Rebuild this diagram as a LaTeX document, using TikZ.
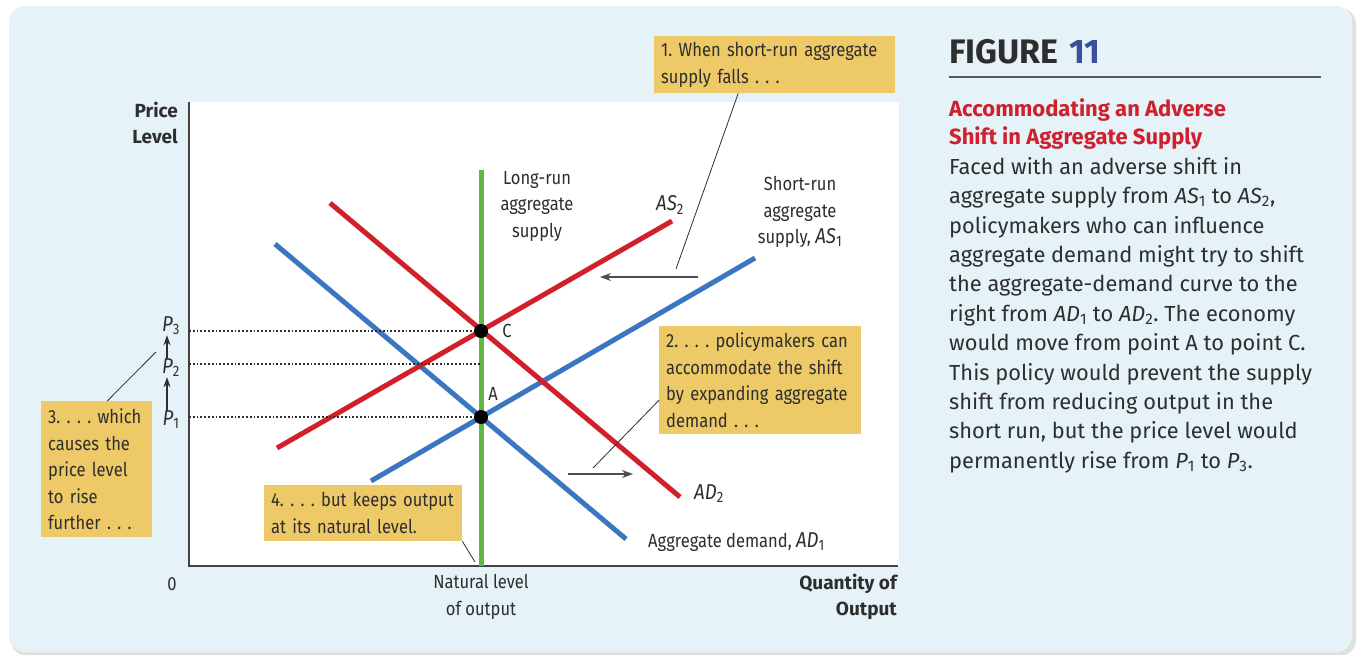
\documentclass[tikz,border=0pt]{standalone}
\usepackage{fontspec}
\newfontfamily\condfont[FakeStretch=0.87]{Fira Sans}
\newfontfamily\bodyfont{Fira Sans}
\usetikzlibrary{arrows.meta,positioning,calc}

\definecolor{panelblue}{HTML}{E5F3F8}
\definecolor{notefill}{HTML}{EDC967}
\definecolor{curvered}{HTML}{D2202A}
\definecolor{curveblue}{HTML}{3B77C0}
\definecolor{lrasgreen}{HTML}{62B847}
\definecolor{inkgray}{HTML}{2E2E2E}
\definecolor{titleblue}{HTML}{3B4F9F}
\definecolor{titlered}{HTML}{D0202E}

\newcommand{\vsub}[2]{\textit{#1}\textsubscript{#2}}
\newcommand{\gsub}[2]{{\fontsize{21.5}{26.5}\selectfont\textit{#1}\textsubscript{#2}}}
\frenchspacing

\tikzset{
  note/.style={fill=notefill, text=inkgray, anchor=north west, align=left,
    font=\condfont\fontsize{19}{26.5}\selectfont, inner xsep=7pt, inner ysep=4pt,
    execute at begin node={\hyphenpenalty=10000\exhyphenpenalty=10000}},
  lbl/.style={text=inkgray, font=\condfont\fontsize{19}{26.5}\selectfont, inner sep=0pt},
  axlbl/.style={text=inkgray, font=\bodyfont\bfseries\fontsize{19}{26.5}\selectfont,
    inner sep=0pt, align=right},
  curve/.style={line width=5pt},
  leader/.style={line width=0.8pt, draw=inkgray},
  shiftarrow/.style={line width=1.4pt, draw=inkgray!85, -{Stealth[length=11pt,width=8pt]}},
  parrow/.style={line width=1.2pt, draw=inkgray, -{Stealth[length=10pt,width=7pt]}},
  dot/.style={circle, fill=black, inner sep=0pt, minimum size=14pt},
  guide/.style={dotted, line width=1.8pt, draw=inkgray}
}

\begin{document}
\begin{tikzpicture}[x=1pt,y=-1pt]
\useasboundingbox (0,0) rectangle (1358,654);
% panel
\fill[white] (0,0) rectangle (1358,654);
\fill[black!12, rounded corners=16pt] (11,8) rectangle (1356,656);
\fill[panelblue, rounded corners=16pt] (9,6) rectangle (1352,652);

% plot area and axes
\fill[white] (189,102) rectangle (899,566);
\coordinate (O) at (189,566);
\draw[line width=1.3pt, draw=inkgray!90] (189,102) -- (O) -- (898,566);

% curves
\coordinate (ad1a) at (275,244); \coordinate (ad1b) at (626,539);
\coordinate (as1a) at (371,481); \coordinate (as1b) at (755,258);
\coordinate (ad2a) at (330,203); \coordinate (ad2b) at (680,497);
\coordinate (as2a) at (277,448); \coordinate (as2b) at (672,221);
\coordinate (lrasa) at (481,170); \coordinate (lrasb) at (481,566);
\draw[curve, curveblue] (ad1a) -- (ad1b);
\draw[curve, curveblue] (as1a) -- (as1b);
\draw[curve, curvered] (ad2a) -- (ad2b);
\draw[curve, curvered] (as2a) -- (as2b);
\draw[curve, lrasgreen] (lrasa) -- (lrasb);

% equilibria and price levels
\node[dot] (ptC) at (481,331) {};
\node[dot] (ptA) at (481,417) {};
\coordinate (y3) at (189,331);
\coordinate (y2) at (189,364);
\coordinate (y1) at (189,417);
\coordinate (x2) at (481,364);
\draw[guide] (y3) -- (ptC);
\draw[guide] (y2) -- (x2);
\draw[guide] (y1) -- (ptA);
\node[lbl] (p3) at (171,326) {\gsub{P}{3}};
\node[lbl] (p2) at (171,368) {\gsub{P}{2}};
\node[lbl] (p1) at (171,420) {\gsub{P}{1}};
\draw[parrow] ([xshift=-4pt]p1.north) -- ([xshift=-4pt]p2.south);
\draw[parrow] ([xshift=-4pt]p2.north) -- ([xshift=-4pt]p3.south);

% curve labels
\node[lbl, align=center] (lrlbl) at (537,206) {Long-run\\aggregate\\supply};
\node[lbl] (as2lbl) at (670,205) {\gsub{AS}{2}};
\node[lbl, align=center] (srlbl) at (800,212) {Short-run\\aggregate\\supply, \gsub{AS}{1}};
\node[lbl] (clbl) at (507,331) {C};
\node[lbl] (albl) at (493,394) {A};
\node[lbl] (ad2lbl) at (709,494) {\gsub{AD}{2}};
\node[lbl, anchor=west] (ad1lbl) at (648,542) {Aggregate demand, \gsub{AD}{1}};

% axis labels
\node[axlbl, anchor=east] (plbl) at (178,123) {Price\\Level};
\node[axlbl, anchor=east] (qlbl) at (897,597) {Quantity of\\Output};
\node[lbl, align=center] (natlbl) at (481,597) {Natural level\\of output};
\node[lbl] (zero) at (172,584) {0};

% notes
\node[note, text width=227pt, minimum height=57pt] (n1) at (654,36)
  {1.~When~short-run~aggregate\\supply falls . . .};
\node[note, text width=188pt, minimum height=108pt] (n2) at (659,326)
  {2.~.~.~.~policymakers~can\\accommodate~the~shift\\by~expanding~aggregate\\demand . . .};
\node[note, text width=97pt, minimum height=136pt] (n3) at (41,401)
  {3.~.~.~.~which\\causes~the\\price~level\\to rise\\further~.~.~.};
\node[note, text width=184pt, minimum height=56pt] (n4) at (264,485)
  {4.~.~.~.~but~keeps~output\\at~its~natural~level.};

% leaders and shift arrows
\coordinate (t1) at (676,269);
\coordinate (t2) at (593,468);
\coordinate (t3) at (156,352);
\coordinate (t4) at (475,562);
\draw[leader] ([xshift=-36.5pt]n1.south) -- (t1);
\draw[leader] ([yshift=-20pt]n2.west) -- (t2);
\draw[leader] ([xshift=10.5pt]n3.north) -- (t3);
\draw[leader] (n4.south east) -- (t4);
\coordinate (s1a) at (698,277); \coordinate (s1b) at (600,277);
\coordinate (s2a) at (568,474); \coordinate (s2b) at (633,474);
\draw[shiftarrow] (s1a) -- (s1b);
\draw[shiftarrow] (s2a) -- (s2b);

% caption
\node[anchor=base west, inner sep=0pt, text=inkgray,
  font=\bodyfont\bfseries\fontsize{34}{34}\selectfont] (fig) at (949,63)
  {FIGURE\hspace{11pt}\textcolor{titleblue}{11}};
\coordinate (rulea) at (949,77); \coordinate (ruleb) at (1321,77);
\draw[line width=1.2pt, draw=inkgray!80] (rulea) -- (ruleb);
\node[anchor=north west, inner sep=0pt, align=left, text=titlered,
  font=\bodyfont\bfseries\fontsize{22}{28.5}\selectfont] (head) at (949,98)
  {Accommodating an Adverse\\Shift in Aggregate Supply};
\node[anchor=north west, inner sep=0pt, align=left, text=inkgray,
  font=\bodyfont\fontsize{21.8}{29.4}\selectfont] (body) at (949,157)
  {Faced with an adverse shift in\\
   aggregate supply from \vsub{AS}{1} to \vsub{AS}{2},\\
   policymakers who can influence\\
   aggregate demand might try to shift\\
   the aggregate-demand curve to the\\
   right from \vsub{AD}{1} to \vsub{AD}{2}. The economy\\
   would move from point A to point C.\\
   This policy would prevent the supply\\
   shift from reducing output in the\\
   short run, but the price level would\\
   permanently rise from \vsub{P}{1} to \vsub{P}{3}.};
\end{tikzpicture}
\end{document}
